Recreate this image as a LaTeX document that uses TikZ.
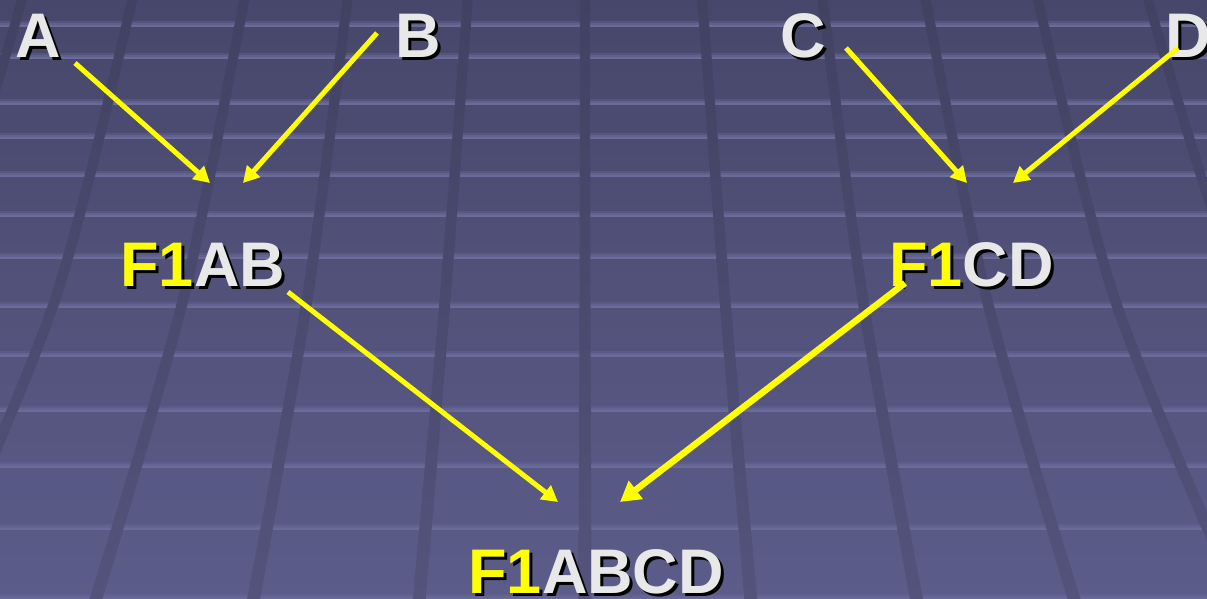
\documentclass[tikz,border=0pt]{standalone}
\usepackage{fontspec}
\setmainfont{Liberation Sans}
\usetikzlibrary{arrows.meta}

\definecolor{bgtop}{RGB}{71,71,107}
\definecolor{bgbot}{RGB}{92,92,138}
\definecolor{bartop}{RGB}{65,65,98}
\definecolor{barbot}{RGB}{83,83,124}
\definecolor{stripe}{RGB}{107,107,155}
\definecolor{labelgray}{RGB}{232,232,232}
\definecolor{fyellow}{RGB}{255,255,0}

% highlighted prefix colour; switched to black inside the drop shadow
\newcommand\hlc{fyellow}
\newcommand\hl[1]{\textcolor{\hlc}{#1}}
% text with a black drop shadow
\newcommand\drop[1]{\rlap{\kern3pt\raisebox{-3pt}{\renewcommand\hlc{black}\color{black}#1}}#1}

\begin{document}
\begin{tikzpicture}[x=1pt,y=-1pt,
  lbl/.style={anchor=base west, inner sep=0pt, outer sep=0pt, text=labelgray,
    font=\bfseries\fontsize{63}{63}\selectfont},
  link/.style={draw=fyellow, line width=5pt, -{Triangle[length=16pt,width=17pt]}},
  boldlink/.style={link, line width=6.5pt, -{Triangle[length=20pt,width=22pt]}},
  barshade/.style={top color=bartop, bottom color=barbot},
]
\useasboundingbox (0,0) rectangle (1207,598);
\clip (0,0) rectangle (1207,598);

% floor background
\shade[top color=bgtop, bottom color=bgbot] (0,0) rectangle (1207,598);

% light horizontal seams
\foreach \s in {27,59,105,139,177,217,259,308,357,412,468,530,600} {
  \fill[stripe, fill opacity=.35] (0,\s-6) rectangle (1207,\s-4);
  \fill[stripe, fill opacity=.7] (0,\s-4) rectangle (1207,\s-2);
  \fill[stripe] (0,\s-2) rectangle (1207,\s);
}

% receding dark bars
\foreach \t/\m/\b in {585/585/585,
    702/725/751, 822/863/917, 925/987/1075, 1037/1115/1240, 1147/1245/1405,
    468/445/419, 348/307/253, 245/183/95, 133/55/-70, 23/-75/-235} {
  \shade[barshade] plot[smooth] coordinates {(\t-5,-4) (\m-5.5,300) (\b-6.5,602)}
    -- plot[smooth] coordinates {(\b+6.5,602) (\m+5.5,300) (\t+5,-4)} -- cycle;
}

% labels
\node[lbl] (A) at (15,57) {\drop{A}};
\node[lbl] (B) at (395.5,57) {\drop{B}};
\node[lbl] (C) at (780,57) {\drop{C}};
\node[lbl] (D) at (1165,57) {\drop{D}};
\node[lbl] (F1AB) at (120.5,286) {\drop{\hl{F1}AB}};
\node[lbl] (F1CD) at (889,286) {\drop{\hl{F1}CD}};
\node[lbl] (F1ABCD) at (468.5,593) {\drop{\hl{F1}ABCD}};

% arrow end points
\coordinate (A-out) at (75,63);
\coordinate (B-out) at (377,33);
\coordinate (C-out) at (846,48);
\coordinate (D-out) at (1178,48);
\coordinate (AB-inL) at (210,183);
\coordinate (AB-inR) at (243,183);
\coordinate (CD-inL) at (967,183);
\coordinate (CD-inR) at (1013,183);
\coordinate (AB-out) at (288,292);
\coordinate (CD-out) at (905,283);
\coordinate (ABCD-inL) at (558,502);
\coordinate (ABCD-inR) at (620,502);

% connectors
\draw[link] (A-out) -- (AB-inL);
\draw[link] (B-out) -- (AB-inR);
\draw[link] (C-out) -- (CD-inL);
\draw[link] (D-out) -- (CD-inR);
\draw[link] (AB-out) -- (ABCD-inL);
\draw[boldlink] (CD-out) -- (ABCD-inR);
\end{tikzpicture}
\end{document}
